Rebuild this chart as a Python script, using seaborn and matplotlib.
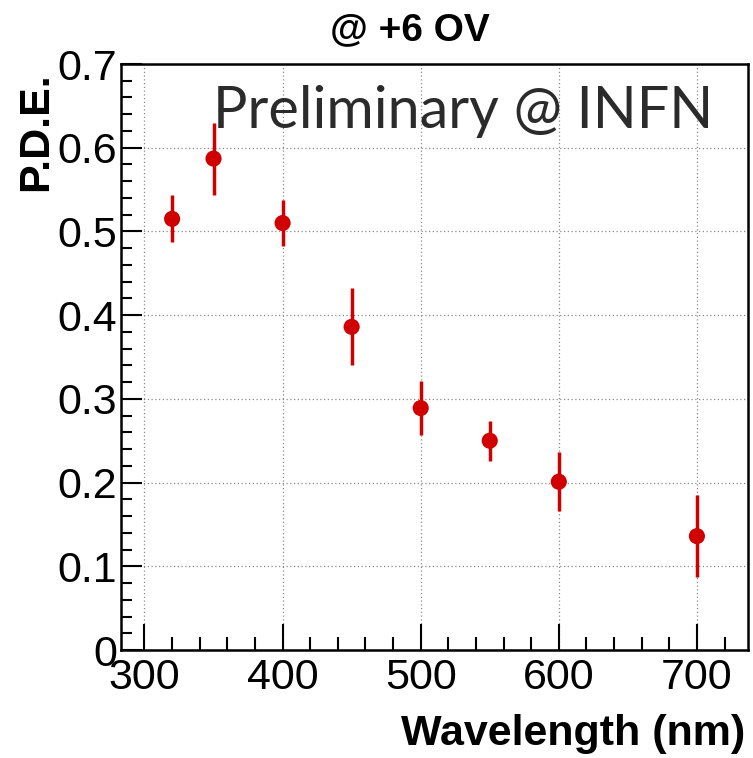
import matplotlib
matplotlib.use("Agg")
import matplotlib.pyplot as plt
import seaborn as sns
import pandas as pd
from matplotlib.ticker import MultipleLocator

# values
wavelength = [320, 350, 400, 450, 500, 550, 600, 700]
pde = [0.515, 0.587, 0.510, 0.386, 0.289, 0.250, 0.201, 0.136]
pde_err = [0.028, 0.043, 0.027, 0.046, 0.032, 0.024, 0.035, 0.049]

df = pd.DataFrame({'wavelength': wavelength, 'pde': pde, 'err': pde_err})

sns.set_style('ticks', {'text.color': 'black', 'axes.labelcolor': 'black',
                        'xtick.color': 'black', 'ytick.color': 'black'})
plt.rcParams['font.family'] = ['Liberation Sans', 'DejaVu Sans']

red = '#d10000'

fig = plt.figure(figsize=(7.53, 7.58), dpi=100)
ax = fig.add_axes([121/753, 1-650/758, 627/753, 586/758])

ax.errorbar(df['wavelength'], df['pde'], yerr=df['err'], fmt='none',
            ecolor=red, elinewidth=2.5, capsize=0, zorder=3)
sns.scatterplot(data=df, x='wavelength', y='pde', ax=ax, color=red,
                s=135, edgecolor='none', linewidth=0, zorder=4, legend=False)

ax.set_xlim(283, 737)
ax.set_ylim(0, 0.7)
ax.xaxis.set_major_locator(MultipleLocator(100))
ax.xaxis.set_minor_locator(MultipleLocator(20))
ax.yaxis.set_major_locator(MultipleLocator(0.1))
ax.yaxis.set_minor_locator(MultipleLocator(0.02))
ax.yaxis.set_major_formatter(plt.FuncFormatter(lambda v, p: '0' if abs(v) < 1e-9 else f'{v:.1f}'))

ax.grid(True, which='major', color='#8a8a8a', linestyle=(0, (1, 2)), linewidth=0.9)
for s in ax.spines.values():
    s.set_linewidth(1.8)
    s.set_color('black')

ax.tick_params(axis='x', which='major', direction='in', length=19, width=1.5,
               labelsize=31, pad=6, top=False, colors='black')
ax.tick_params(axis='x', which='minor', direction='in', length=9.5, width=1.5, top=False, colors='black')
ax.tick_params(axis='y', which='major', direction='in', length=15, width=1.5,
               labelsize=31, pad=3, right=False, colors='black')
ax.tick_params(axis='y', which='minor', direction='in', length=8, width=1.5, right=False, colors='black')

ax.set_xlabel('Wavelength (nm)', fontsize=31, weight='bold', loc='right', va='baseline', color='black')
ax.xaxis.set_label_coords(1 - 3/627, -95/586)
ax.set_ylabel('P.D.E.', fontsize=31, weight='bold', loc='top', va='baseline', color='black')
ax.yaxis.set_label_coords(-74/627, (650-72)/586)

fig.text(410/753, 1-40/758, '@ +6 OV', fontsize=28, weight='bold', ha='center', va='baseline', color='black')

ax.text(92/627, (650-128)/586, 'Preliminary @ INFN', fontsize=41.5, family='Lato',
        color='#2b2b2b', transform=ax.transAxes, ha='left', va='baseline')

fig.savefig('out.png', dpi=100)
